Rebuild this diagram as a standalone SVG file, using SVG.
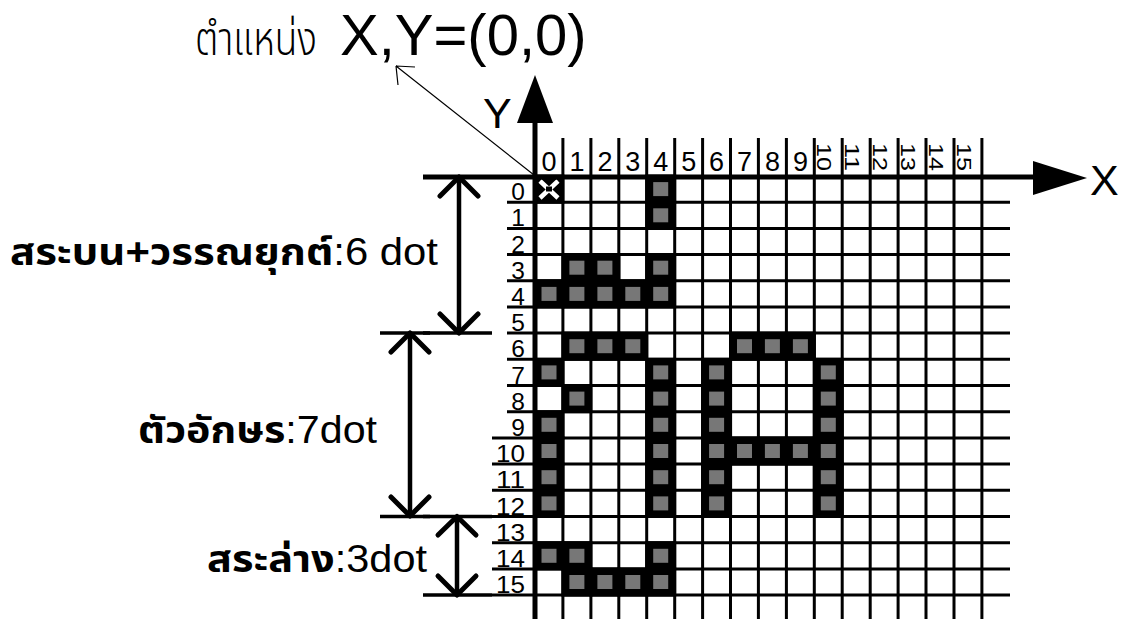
<svg xmlns="http://www.w3.org/2000/svg" xmlns:xlink="http://www.w3.org/1999/xlink" width="1122" height="619" viewBox="0 0 1122 619">
<style>
.bg{fill:#fff}
.grid{stroke:#000;stroke-width:3;fill:none}
.axis{stroke:#000;stroke-width:5;fill:none}
.ext{stroke:#000;stroke-width:3.5;fill:none}
.shaft{stroke:#000;stroke-width:4.5;fill:none}
.head{stroke:#000;stroke-width:5;fill:none;stroke-linecap:round;stroke-linejoin:round}
.num{font-family:"Liberation Sans",Arial,sans-serif;font-size:27px;fill:#000}
.rowl{font-family:"Liberation Sans",Arial,sans-serif;font-size:24.5px;fill:#000}
.rnum{font-family:"Liberation Sans",Arial,sans-serif;font-size:21px;fill:#000}
.lbl{font-family:"Liberation Sans","Noto Sans Thai","Noto Sans",sans-serif;font-size:38px;fill:#000}
.th{font-weight:bold}
.ax{font-family:"Liberation Sans",Arial,sans-serif;font-size:43px;fill:#000}
</style>
<defs>
<g id="cell"><rect x="-15.5" y="-14.6" width="31" height="29.2" fill="#000"/><rect x="-7.5" y="-7" width="15" height="14" fill="#777"/></g>
</defs>
<rect class="bg" x="0" y="0" width="1122" height="619"/>

<g id="title">
<text x="195" y="55" font-family="'Noto Sans Thai','Noto Sans',sans-serif" font-size="46" font-weight="300" textLength="122" lengthAdjust="spacingAndGlyphs">ตำแหน่ง</text>
<text x="340" y="55" font-family="'Liberation Sans',Arial,sans-serif" font-size="58">X,Y=(0,0)</text>
</g>

<g id="grid">
<path class="grid" d="M562.9 138V619M590.9 138V619M618.8 138V619M646.7 138V619M674.7 138V619M702.6 138V619M730.5 138V619M758.4 138V619M786.4 138V619M814.3 138V619M842.2 138V619M870.2 138V619M898.1 138V619M926 138V619M954 138V619M981.9 138V619"/>
<path class="grid" d="M507 202.2H1010M507 228.4H1010M507 254.6H1010M507 280.8H1010M507 306.9H1010M507 333.1H1010M507 359.3H1010M507 385.5H1010M507 411.7H1010M492 437.9H1010M492 464.1H1010M492 490.3H1010M492 516.5H1010M492 542.7H1010M492 568.9H1010M492 595H1010"/>
</g>

<g id="cells">
<rect x="533.5" y="174.5" width="30.9" height="29.2" fill="#000"/>
<path d="M540 181L558 198M558 181L540 198" stroke="#fff" stroke-width="4.5"/>
<rect x="546" y="186.5" width="6" height="5" fill="#000"/>
<use xlink:href="#cell" x="660.7" y="189.1"/>
<use xlink:href="#cell" x="660.7" y="215.3"/>
<use xlink:href="#cell" x="576.9" y="267.7"/>
<use xlink:href="#cell" x="604.9" y="267.7"/>
<use xlink:href="#cell" x="660.7" y="267.7"/>
<use xlink:href="#cell" x="549" y="293.9"/>
<use xlink:href="#cell" x="576.9" y="293.9"/>
<use xlink:href="#cell" x="604.9" y="293.9"/>
<use xlink:href="#cell" x="632.8" y="293.9"/>
<use xlink:href="#cell" x="660.7" y="293.9"/>
<use xlink:href="#cell" x="576.9" y="346.2"/>
<use xlink:href="#cell" x="604.9" y="346.2"/>
<use xlink:href="#cell" x="632.8" y="346.2"/>
<use xlink:href="#cell" x="744.5" y="346.2"/>
<use xlink:href="#cell" x="772.4" y="346.2"/>
<use xlink:href="#cell" x="800.4" y="346.2"/>
<use xlink:href="#cell" x="549" y="372.4"/>
<use xlink:href="#cell" x="660.7" y="372.4"/>
<use xlink:href="#cell" x="716.6" y="372.4"/>
<use xlink:href="#cell" x="828.3" y="372.4"/>
<use xlink:href="#cell" x="576.9" y="398.6"/>
<use xlink:href="#cell" x="660.7" y="398.6"/>
<use xlink:href="#cell" x="716.6" y="398.6"/>
<use xlink:href="#cell" x="828.3" y="398.6"/>
<use xlink:href="#cell" x="549" y="424.8"/>
<use xlink:href="#cell" x="660.7" y="424.8"/>
<use xlink:href="#cell" x="716.6" y="424.8"/>
<use xlink:href="#cell" x="828.3" y="424.8"/>
<use xlink:href="#cell" x="549" y="451"/>
<use xlink:href="#cell" x="660.7" y="451"/>
<use xlink:href="#cell" x="716.6" y="451"/>
<use xlink:href="#cell" x="744.5" y="451"/>
<use xlink:href="#cell" x="772.4" y="451"/>
<use xlink:href="#cell" x="800.4" y="451"/>
<use xlink:href="#cell" x="828.3" y="451"/>
<use xlink:href="#cell" x="549" y="477.2"/>
<use xlink:href="#cell" x="660.7" y="477.2"/>
<use xlink:href="#cell" x="716.6" y="477.2"/>
<use xlink:href="#cell" x="828.3" y="477.2"/>
<use xlink:href="#cell" x="549" y="503.4"/>
<use xlink:href="#cell" x="660.7" y="503.4"/>
<use xlink:href="#cell" x="716.6" y="503.4"/>
<use xlink:href="#cell" x="828.3" y="503.4"/>
<use xlink:href="#cell" x="549" y="555.8"/>
<use xlink:href="#cell" x="576.9" y="555.8"/>
<use xlink:href="#cell" x="660.7" y="555.8"/>
<use xlink:href="#cell" x="576.9" y="582"/>
<use xlink:href="#cell" x="604.9" y="582"/>
<use xlink:href="#cell" x="632.8" y="582"/>
<use xlink:href="#cell" x="660.7" y="582"/>
</g>

<g id="axes">
<path class="axis" d="M423 177H1040"/>
<path d="M1033 161L1087 178L1033 195Z" fill="#000"/>
<path class="axis" d="M535 110V619"/>
<path d="M535 75L553 123L517 123Z" fill="#000"/>
<text class="ax" x="483" y="128">Y</text>
<text class="ax" x="1090" y="195">X</text>
</g>

<g id="col-labels" class="num" text-anchor="middle">
<text x="549" y="171">0</text>
<text x="576.9" y="171">1</text>
<text x="604.9" y="171">2</text>
<text x="632.8" y="171">3</text>
<text x="660.7" y="171">4</text>
<text x="688.7" y="171">5</text>
<text x="716.6" y="171">6</text>
<text x="744.5" y="171">7</text>
<text x="772.4" y="171">8</text>
<text x="800.4" y="171">9</text>
</g>
<g id="col-labels-rot" class="rnum">
<text x="817" y="143" transform="rotate(90 817 143)" textLength="28" lengthAdjust="spacingAndGlyphs">10</text>
<text x="845" y="143" transform="rotate(90 845 143)" textLength="28" lengthAdjust="spacingAndGlyphs">11</text>
<text x="873" y="143" transform="rotate(90 873 143)" textLength="28" lengthAdjust="spacingAndGlyphs">12</text>
<text x="901" y="143" transform="rotate(90 901 143)" textLength="28" lengthAdjust="spacingAndGlyphs">13</text>
<text x="929" y="143" transform="rotate(90 929 143)" textLength="28" lengthAdjust="spacingAndGlyphs">14</text>
<text x="957" y="143" transform="rotate(90 957 143)" textLength="28" lengthAdjust="spacingAndGlyphs">15</text>
</g>

<g id="row-labels" class="rowl" text-anchor="end">
<text x="525" y="200">0</text>
<text x="525" y="226.4">1</text>
<text x="525" y="252.6">2</text>
<text x="525" y="278.8">3</text>
<text x="525" y="304.9">4</text>
<text x="525" y="331.1">5</text>
<text x="525" y="357.3">6</text>
<text x="525" y="383.5">7</text>
<text x="525" y="409.7">8</text>
<text x="525" y="435.9">9</text>
<text x="525" y="462.1" textLength="29" lengthAdjust="spacingAndGlyphs">10</text>
<text x="525" y="488.3" textLength="29" lengthAdjust="spacingAndGlyphs">11</text>
<text x="525" y="514.5" textLength="29" lengthAdjust="spacingAndGlyphs">12</text>
<text x="525" y="540.7" textLength="29" lengthAdjust="spacingAndGlyphs">13</text>
<text x="525" y="566.9" textLength="29" lengthAdjust="spacingAndGlyphs">14</text>
<text x="525" y="593" textLength="29" lengthAdjust="spacingAndGlyphs">15</text>
</g>

<g id="connectors">
<g id="dim-upper">
<path class="ext" d="M423 177H500M423 333.1H492"/>
<path class="shaft" d="M459 179V331"/>
<path class="head" d="M440 196L459 177L478 196M440 314L459 333L478 314"/>
</g>
<g id="dim-body">
<path class="ext" d="M380 333.1H430M380 516.5H430"/>
<path class="shaft" d="M410 335V514"/>
<path class="head" d="M391 352L410 333L429 352M391 497L410 516L429 497"/>
</g>
<g id="dim-lower">
<path class="ext" d="M423 516.5H492M423 595H492"/>
<path class="shaft" d="M457 518V593"/>
<path class="head" d="M438 535L457 516.5L476 535M438 576L457 595L476 576"/>
</g>
<g id="pointer">
<path d="M534 175L396 66M396 66L415 67M396 66L398 85" stroke="#000" stroke-width="1.2" fill="none"/>
</g>
</g>

<g id="labels">
<text class="lbl" x="10" y="265" textLength="428" lengthAdjust="spacingAndGlyphs"><tspan class="th">สระบน+วรรณยุกต์</tspan>:6 dot</text>
<text class="lbl" x="138" y="443" textLength="239" lengthAdjust="spacingAndGlyphs"><tspan class="th">ตัวอักษร</tspan>:7dot</text>
<text class="lbl" x="207" y="572" textLength="220" lengthAdjust="spacingAndGlyphs"><tspan class="th">สระล่าง</tspan>:3dot</text>
</g>
</svg>
